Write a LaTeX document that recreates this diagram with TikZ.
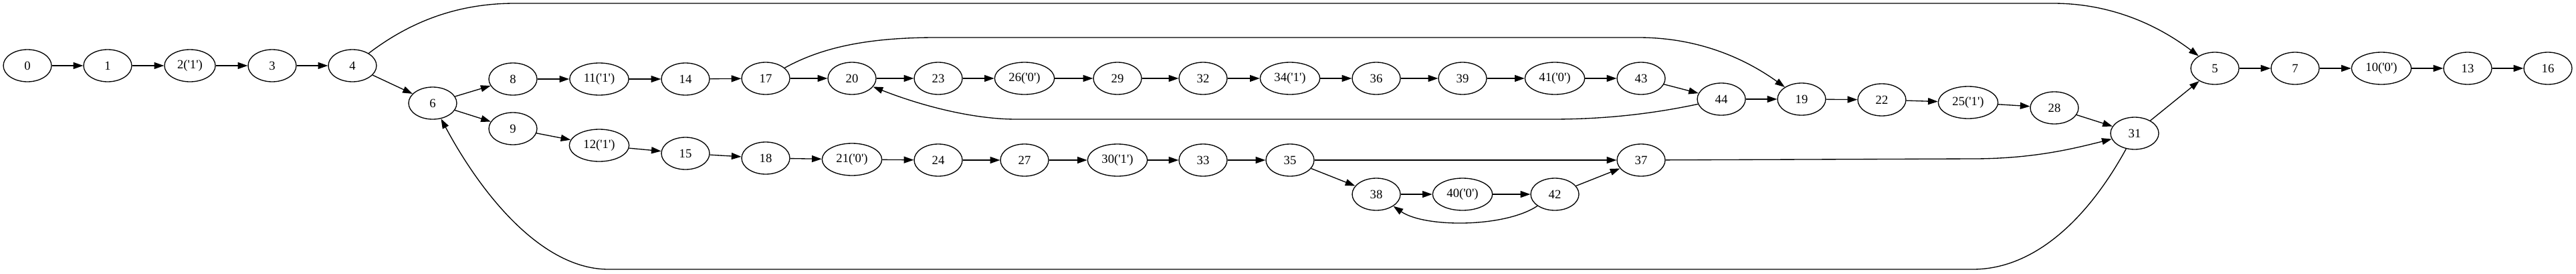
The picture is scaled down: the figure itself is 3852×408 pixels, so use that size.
\documentclass[tikz,border=0pt]{standalone}
\usepackage{fontspec}
\newfontfamily\gv{Liberation Serif}[Ligatures=TeXOff]
\usetikzlibrary{arrows.meta,shapes.geometric}
\tikzset{
  gvnode/.style={ellipse,draw,line width=1pt,minimum width=54pt,minimum height=36pt,
    inner xsep=6pt,inner ysep=0pt,font=\gv\fontsize{14}{16}\selectfont},
  gvedge/.style={line width=1pt,-{Triangle[length=11pt,width=7.5pt]}}
}
\begin{document}
\begin{tikzpicture}[x=0.75pt,y=-0.75pt]
\useasboundingbox (0,0) rectangle (3852,408);
\node[gvnode] (n0) at (41,98) {0};
\node[gvnode] (n1) at (161,98) {1};
\node[gvnode] (n2) at (284,98) {2('1')};
\node[gvnode] (n3) at (407,98) {3};
\node[gvnode] (n4) at (527,98) {4};
\node[gvnode] (n6) at (647,154) {6};
\node[gvnode] (n8) at (767,118) {8};
\node[gvnode] (n11) at (896,118) {11('1')};
\node[gvnode] (n14) at (1025,118) {14};
\node[gvnode] (n17) at (1145,117) {17};
\node[gvnode] (n20) at (1274,117) {20};
\node[gvnode] (n23) at (1403,117) {23};
\node[gvnode] (n26) at (1532,117) {26('0')};
\node[gvnode] (n29) at (1671,117) {29};
\node[gvnode] (n32) at (1799,117) {32};
\node[gvnode] (n34) at (1929,117) {34('1')};
\node[gvnode] (n36) at (2058,117) {36};
\node[gvnode] (n39) at (2187,117) {39};
\node[gvnode] (n41) at (2325,117) {41('0')};
\node[gvnode] (n43) at (2454,117) {43};
\node[gvnode] (n44) at (2574,148) {44};
\node[gvnode] (n19) at (2694,148) {19};
\node[gvnode] (n22) at (2814,149) {22};
\node[gvnode] (n25) at (2943,153) {25('1')};
\node[gvnode] (n28) at (3072,161) {28};
\node[gvnode] (n31) at (3192,199) {31};
\node[gvnode] (n5) at (3312,102) {5};
\node[gvnode] (n7) at (3432,102) {7};
\node[gvnode] (n10) at (3561,102) {10('0')};
\node[gvnode] (n13) at (3690,102) {13};
\node[gvnode] (n16) at (3810,102) {16};
\node[gvnode] (n9) at (767,192) {9};
\node[gvnode] (n12) at (896,217) {12('1')};
\node[gvnode] (n15) at (1025,229) {15};
\node[gvnode] (n18) at (1145,236) {18};
\node[gvnode] (n21) at (1274,238) {21('0')};
\node[gvnode] (n24) at (1403,239) {24};
\node[gvnode] (n27) at (1532,239) {27};
\node[gvnode] (n30) at (1671,239) {30('1')};
\node[gvnode] (n33) at (1799,239) {33};
\node[gvnode] (n35) at (1929,239) {35};
\node[gvnode] (n37) at (2454,239) {37};
\node[gvnode] (n38) at (2058,290) {38};
\node[gvnode] (n40) at (2187,290) {40('0')};
\node[gvnode] (n42) at (2325,290) {42};
% straight edges
\foreach \a/\b in {n0/n1,n1/n2,n2/n3,n3/n4,n4/n6,n6/n8,n6/n9,n8/n11,n11/n14,n14/n17,n17/n20,
  n20/n23,n23/n26,n26/n29,n29/n32,n32/n34,n34/n36,n36/n39,n39/n41,n41/n43,n43/n44,n44/n19,
  n19/n22,n22/n25,n25/n28,n28/n31,n31/n5,n5/n7,n7/n10,n10/n13,n13/n16,
  n9/n12,n12/n15,n15/n18,n18/n21,n21/n24,n24/n27,n27/n30,n30/n33,n33/n35,n35/n37,n35/n38,
  n38/n40,n40/n42,n42/n37}
  \draw[gvedge] (\a) -- (\b);
% curved edges
\draw[gvedge] (n4) .. controls (610,35) and (680,5) .. (770,5) -- (3070,5)
  .. controls (3160,5) and (3230,40) .. (n5);
\draw[gvedge] (n17) .. controls (1230,70) and (1300,56) .. (1400,56) -- (2450,56)
  .. controls (2550,56) and (2620,95) .. (n19);
\draw[gvedge] (n44) .. controls (2470,170) and (2400,178) .. (2320,178) -- (1520,178)
  .. controls (1450,178) and (1370,155) .. (n20);
\draw[gvedge] (n31) .. controls (3120,330) and (3040,402) .. (2950,402) -- (910,402)
  .. controls (810,402) and (720,290) .. (n6);
\draw[gvedge] (n37) -- (2950,237) .. controls (3040,237) and (3100,222) .. (n31);
\draw[gvedge] (n42) .. controls (2250,340) and (2130,340) .. (n38);
\end{tikzpicture}
\end{document}
